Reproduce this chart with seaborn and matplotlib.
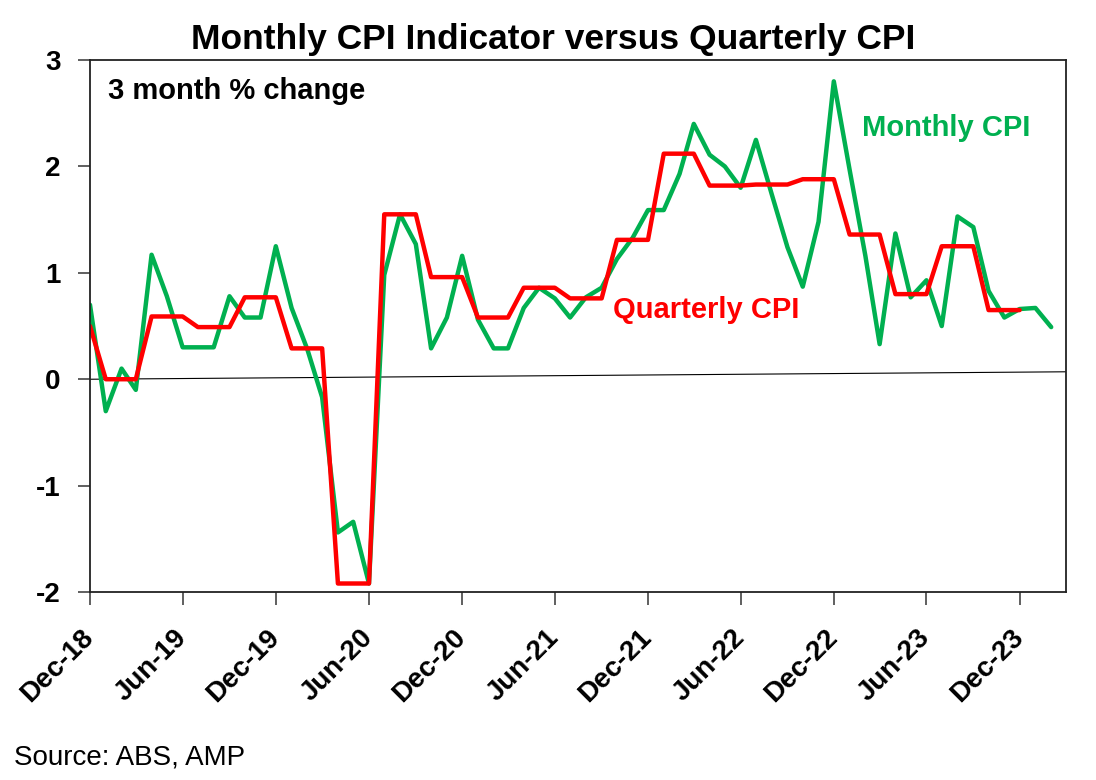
import matplotlib
matplotlib.use('Agg')
import matplotlib.pyplot as plt
import matplotlib.dates as mdates
import seaborn as sns
import pandas as pd

# monthly CPI indicator, 3 month % change, Dec-18 .. Feb-24
monthly_cpi = [0.70, -0.30, 0.10, -0.10, 1.17, 0.78, 0.30, 0.30, 0.30, 0.78,
               0.58, 0.58, 1.25, 0.67, 0.28, -0.17, -1.44, -1.34, -1.92, 0.98,
               1.55, 1.27, 0.29, 0.58, 1.16, 0.56, 0.29, 0.29, 0.67, 0.86,
               0.76, 0.58, 0.77, 0.86, 1.13, 1.33, 1.59, 1.59, 1.93, 2.40,
               2.11, 2.00, 1.80, 2.25, 1.74, 1.24, 0.87, 1.48, 2.80, 1.97,
               1.16, 0.33, 1.37, 0.77, 0.93, 0.50, 1.53, 1.43, 0.83, 0.58,
               0.66, 0.67, 0.49]

# quarterly CPI, shown against each month of its quarter, Dec-18 .. Dec-23
quarterly_cpi = [0.50, 0.00, 0.00, 0.00, 0.59, 0.59, 0.59, 0.49, 0.49, 0.49,
                 0.77, 0.77, 0.77, 0.29, 0.29, 0.29, -1.92, -1.92, -1.92, 1.55,
                 1.55, 1.55, 0.96, 0.96, 0.96, 0.58, 0.58, 0.58, 0.86, 0.86,
                 0.86, 0.76, 0.76, 0.76, 1.31, 1.31, 1.31, 2.12, 2.12, 2.12,
                 1.82, 1.82, 1.82, 1.83, 1.83, 1.83, 1.88, 1.88, 1.88, 1.36,
                 1.36, 1.36, 0.80, 0.80, 0.80, 1.25, 1.25, 1.25, 0.65, 0.65,
                 0.65]

start_month = '2018-12-01'
end_month = '2024-03-01'
zero_line_dates = [start_month, end_month]
zero_line_values = [0.0, 0.07]
y_ticks = [-2, -1, 0, 1, 2, 3]

GREEN = '#00B050'
RED = '#FF0000'

monthly_df = pd.DataFrame({
    'date': pd.date_range(start_month, periods=len(monthly_cpi), freq='MS'),
    'value': monthly_cpi,
})
quarterly_df = pd.DataFrame({
    'date': pd.date_range(start_month, periods=len(quarterly_cpi), freq='MS'),
    'value': quarterly_cpi,
})

sns.set_style('white')
plt.rcParams['font.family'] = ['Liberation Sans', 'DejaVu Sans']
plt.rcParams['axes.unicode_minus'] = False
plt.rcParams['text.color'] = 'black'
plt.rcParams['xtick.color'] = 'black'
plt.rcParams['ytick.color'] = 'black'

fig = plt.figure(figsize=(10.96, 7.80), dpi=100)
ax = fig.add_axes([0.0821, 0.241, 0.8905, 0.682])

ax.plot(pd.to_datetime(zero_line_dates), zero_line_values, color='black', lw=0.8)
sns.lineplot(data=monthly_df, x='date', y='value', color=GREEN, lw=3.2, ax=ax)
sns.lineplot(data=quarterly_df, x='date', y='value', color=RED, lw=3.2, ax=ax)

ax.set_xlim(pd.Timestamp(start_month), pd.Timestamp(end_month))
ax.set_ylim(-2, 3)
ax.set_yticks(y_ticks)
ax.set_xlabel('')
ax.set_ylabel('')

ax.xaxis.set_major_locator(mdates.MonthLocator(bymonth=[6, 12]))
ax.xaxis.set_major_formatter(mdates.DateFormatter('%b-%y'))
for spine in ax.spines.values():
    spine.set_color('#222222')
    spine.set_linewidth(1.3)
ax.tick_params(axis='both', direction='out', length=9, width=1.2, color='#444444',
               labelsize=20, labelcolor='black', bottom=True, left=True)
ax.tick_params(axis='y', pad=12)
ax.tick_params(axis='x', pad=21)
for lbl in ax.get_yticklabels():
    lbl.set_fontweight('bold')
for lbl in ax.get_xticklabels():
    lbl.set_fontweight('bold')
    lbl.set_rotation(45)
    lbl.set_ha('right')
    lbl.set_va('center')
    lbl.set_rotation_mode('anchor')

ax.text(0.018, 0.941, '3 month % change', transform=ax.transAxes, fontsize=21,
        fontweight='bold', va='center', ha='left')
ax.text(0.791, 0.872, 'Monthly CPI', transform=ax.transAxes, fontsize=21,
        fontweight='bold', color=GREEN, va='center', ha='left')
ax.text(0.536, 0.530, 'Quarterly CPI', transform=ax.transAxes, fontsize=21,
        fontweight='bold', color=RED, va='center', ha='left')

fig.text(0.505, 0.949, 'Monthly CPI Indicator versus Quarterly CPI', fontsize=25.5,
         fontweight='bold', ha='center', va='center')
fig.text(0.013, 0.029, 'Source: ABS, AMP', fontsize=20, ha='left', va='center')

fig.savefig('out.png', dpi=100)
plt.close(fig)
